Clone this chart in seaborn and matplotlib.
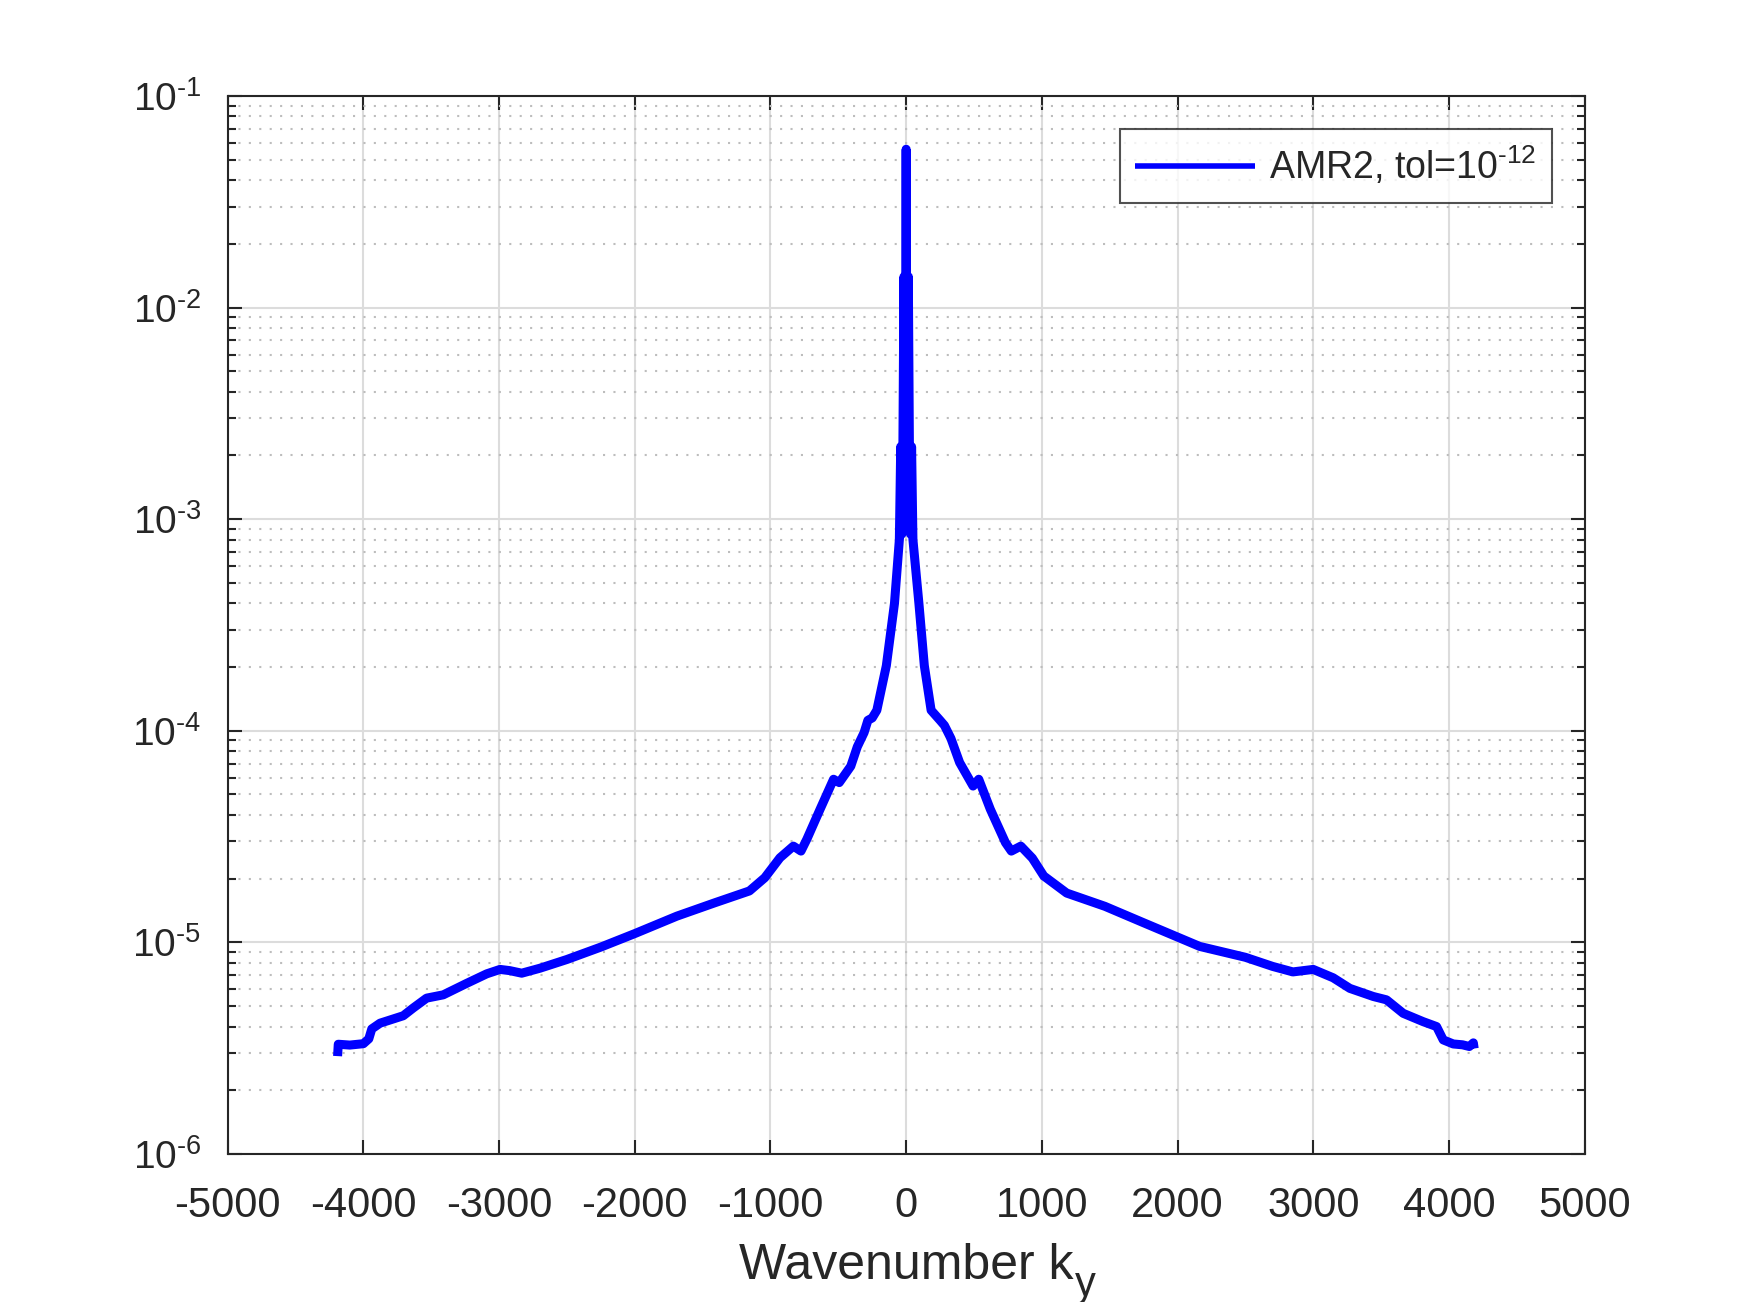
import matplotlib
matplotlib.use("Agg")
import matplotlib.pyplot as plt
import matplotlib.ticker as mticker
import seaborn as sns
import pandas as pd

# wavenumber k_y (left end -> right end)
kv = [-4190, -4185, -4100, -4000, -3960, -3938, -3877, -3706, -3632, -3534,
      -3411, -3239, -3091, -2993, -2920, -2833, -2698, -2500, -2250, -2000,
      -1690, -1408, -1155, -1042, -930, -831, -775, -732, -634, -535,
      -493, -408, -360, -310, -282, -250, -216, -146, -86, -50,
      -40, -32, -24, -16, -8, 0, 8, 16, 24, 32, 40,
      50, 94, 134, 184, 250, 282, 330, 394, 493, 535, 620,
      732, 775, 845, 930, 1014, 1183, 1465, 1747, 2163, 2500,
      2700, 2850, 3000, 3147, 3270, 3442, 3540, 3663, 3810, 3909,
      3958, 4032, 4100, 4150, 4180, 4186]

# spectrum values at those wavenumbers
psd = [2.9e-6, 3.3e-6, 3.27e-6, 3.32e-6, 3.5e-6, 3.9e-6, 4.15e-6, 4.5e-6, 4.9e-6, 5.45e-6,
       5.65e-6, 6.4e-6, 7.1e-6, 7.45e-6, 7.35e-6, 7.15e-6, 7.55e-6, 8.3e-6, 9.5e-6, 1.1e-5,
       1.33e-5, 1.54e-5, 1.75e-5, 2.02e-5, 2.51e-5, 2.85e-5, 2.7e-5, 3.07e-5, 4.26e-5, 5.9e-5,
       5.69e-5, 6.8e-5, 8.4e-5, 9.8e-5, 1.12e-4, 1.15e-4, 1.25e-4, 2.03e-4, 4.0e-4, 8.0e-4,
       2.2e-3, 8.5e-4, 2.2e-3, 1.4e-2, 9.0e-4, 5.6e-2, 9.0e-4, 1.4e-2, 2.2e-3, 8.5e-4, 2.2e-3,
       8.0e-4, 4.0e-4, 2.03e-4, 1.25e-4, 1.12e-4, 1.06e-4, 9.2e-5, 7.08e-5, 5.48e-5, 5.9e-5, 4.26e-5,
       2.96e-5, 2.7e-5, 2.85e-5, 2.5e-5, 2.06e-5, 1.71e-5, 1.48e-5, 1.24e-5, 9.57e-6, 8.5e-6,
       7.7e-6, 7.25e-6, 7.45e-6, 6.8e-6, 6.06e-6, 5.55e-6, 5.35e-6, 4.62e-6, 4.22e-6, 4.0e-6,
       3.46e-6, 3.31e-6, 3.28e-6, 3.22e-6, 3.35e-6, 3.15e-6]

series_label = r"AMR2, tol=$\mathregular{10^{\text{-}12}}$"
xticks = [-5000, -4000, -3000, -2000, -1000, 0, 1000, 2000, 3000, 4000, 5000]
ydecades = [-6, -5, -4, -3, -2, -1]

df = pd.DataFrame({"k": kv, "E": psd})

sns.set_theme(style="white")
plt.rcParams["font.family"] = ["Liberation Sans", "DejaVu Sans"]
plt.rcParams["mathtext.fontset"] = "custom"
plt.rcParams["mathtext.rm"] = "Liberation Sans"
plt.rcParams["mathtext.it"] = "Liberation Sans:italic"
plt.rcParams["mathtext.default"] = "regular"

fig = plt.figure(figsize=(17.5, 13.02), dpi=100)
ax = fig.add_axes([0.1301, 0.1137, 0.7754, 0.8126])

sns.lineplot(data=df, x="k", y="E", ax=ax, color="#0000ff", linewidth=6.5,
             estimator=None, sort=False, label=series_label,
             solid_joinstyle="round", solid_capstyle="butt")

ax.set_yscale("log")
ax.set_xlim(-5000, 5000)
ax.set_ylim(1e-6, 1e-1)
ax.set_xticks(xticks)
ax.set_xticklabels([str(t) for t in xticks])
ax.set_yticks([10.0 ** d for d in ydecades])
ax.set_yticklabels([r"$\mathregular{10^{\text{-}%d}}$" % (-d) for d in ydecades])
ax.yaxis.set_minor_locator(mticker.LogLocator(base=10, subs=range(2, 10), numticks=20))
ax.yaxis.set_minor_formatter(mticker.NullFormatter())

# matlab-ish grid
ax.grid(True, which="major", color="#dcdcdc", linewidth=1.5, linestyle="-")
ax.grid(True, which="minor", axis="y", color="#bdbdbd", linewidth=1.5, linestyle=(0, (1, 4)))
ax.set_axisbelow(True)

for s in ax.spines.values():
    s.set_visible(True)
    s.set_color("#262626")
    s.set_linewidth(1.5)
ax.tick_params(which="both", direction="in", top=True, right=True, bottom=True, left=True,
               color="#262626", labelcolor="#262626")
ax.tick_params(which="major", length=10, width=1.5)
ax.tick_params(which="minor", length=5.5, width=1.5)
ax.tick_params(axis="x", which="major", pad=23, labelsize=30)
ax.tick_params(axis="y", which="major", pad=19, labelsize=28)

# x label with a big, low matlab-style subscript
ax.set_xlabel("Wavenumber k", fontsize=36, color="#262626", labelpad=12)
ax.annotate("y", xy=(1, 0), xycoords=ax.xaxis.label, xytext=(1, -5),
            textcoords="offset points", fontsize=30, color="#262626",
            ha="left", va="baseline", annotation_clip=False)
ax.set_ylabel("")

leg = ax.legend(loc="upper right", bbox_to_anchor=(0.976, 0.969), borderaxespad=0,
                fontsize=27, frameon=True, fancybox=False, handlelength=3.2,
                handletextpad=0.36, borderpad=0.42)
leg.get_frame().set_edgecolor("#262626")
leg.get_frame().set_linewidth(1.5)
leg.get_lines()[0].set_linewidth(4)

fig.savefig("out.png", dpi=100, facecolor="white")
